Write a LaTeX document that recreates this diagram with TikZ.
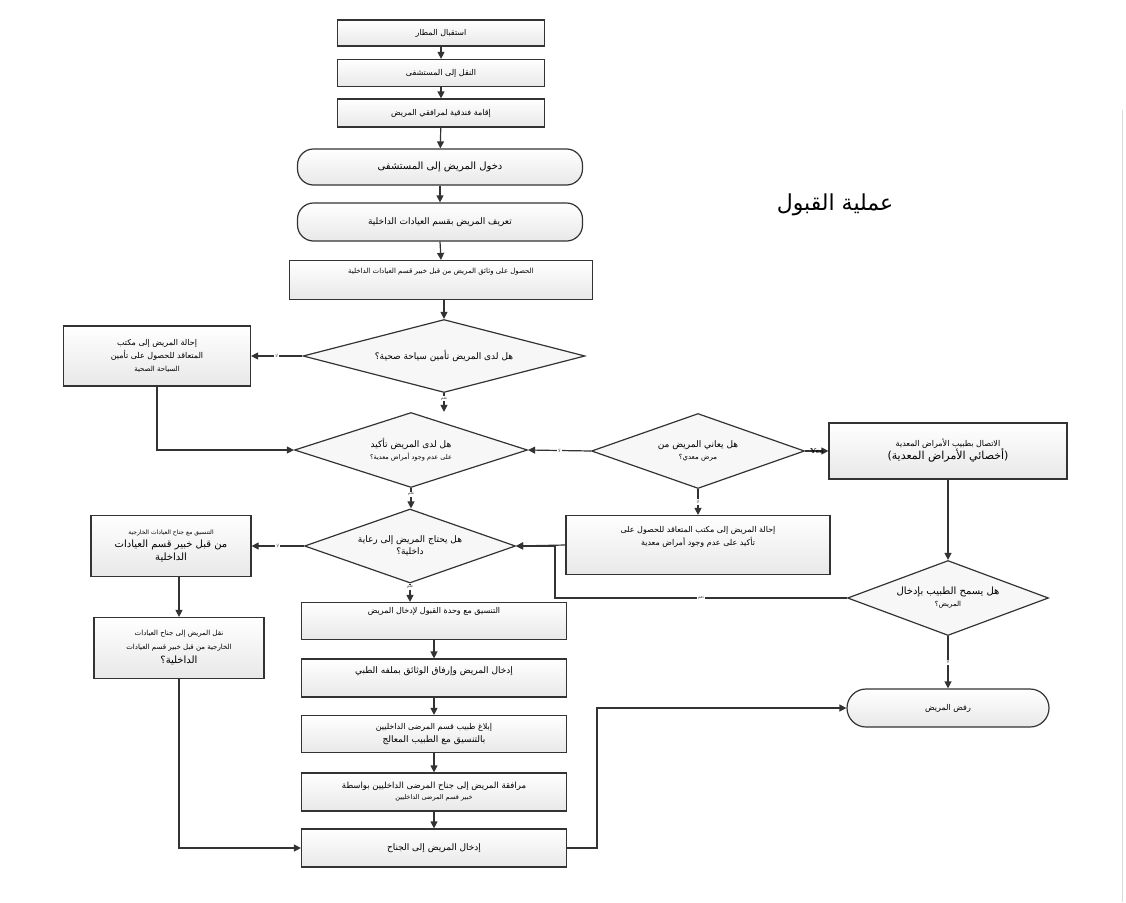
\documentclass[tikz,border=0pt]{standalone}
\usepackage{fontspec}
\newfontfamily\arabicfont[Script=Arabic]{DejaVu Sans}
\TeXXeTstate=1
\usetikzlibrary{shapes.geometric,arrows.meta}
\newcommand{\ar}[1]{{\arabicfont\beginR #1\endR}}
\begin{document}
\begin{tikzpicture}[x=1pt,y=-1pt,
  bx/.style={draw=black!80,line width=1.2pt,top color=white,bottom color=gray!18,inner sep=1pt,align=center,font=\fontsize{8}{13}\selectfont},
  rbx/.style={bx,rounded corners=16pt},
  dm/.style={draw=black!80,line width=1.2pt,fill=gray!6,diamond,aspect=3.8,inner sep=0pt,align=center,font=\fontsize{9}{12}\selectfont},
  ln/.style={draw=black!80,line width=1.2pt},
  ar1/.style={ln,-{Triangle[length=7pt,width=7pt]}},
  lb/.style={font=\fontsize{4.5}{5}\selectfont,fill=white,inner sep=1pt,text=black!70}]
\useasboundingbox (0,0) rectangle (1126,902);
\draw[gray!30] (1122,110) -- (1122,902);
% top chain
\node[bx,minimum width=207pt,minimum height=26pt] (b1) at (441,33) {\ar{استقبال المطار}};
\node[bx,minimum width=207pt,minimum height=27pt] (b2) at (441,73) {\ar{النقل إلى المستشفى}};
\node[bx,minimum width=207pt,minimum height=28pt] (b3) at (441,113) {\ar{إقامة فندقية لمرافقي المريض}};
\node[rbx,minimum width=285pt,minimum height=36pt,font=\fontsize{10}{12}\selectfont] (r1) at (440,167) {\ar{دخول المريض إلى المستشفى}};
\node[rbx,minimum width=285pt,minimum height=38pt,font=\fontsize{9}{12}\selectfont] (r2) at (440,222) {\ar{تعريف المريض بقسم العيادات الداخلية}};
\node[bx,minimum width=303pt,minimum height=39pt,font=\fontsize{7}{9}\selectfont] (b4) at (441,280) {\ar{الحصول على وثائق المريض من قبل خبير قسم العيادات الداخلية}\\[10pt]};
\node[font=\fontsize{22}{26}\selectfont] (title) at (835,205) {\ar{عملية القبول}};
% diamonds
\node[dm,minimum width=282pt,minimum height=73pt] (d1) at (444,356) {\ar{هل لدى المريض تأمين سياحة صحية؟}};
\node[bx,minimum width=187pt,minimum height=60pt] (l1) at (157,356) {\ar{إحالة المريض إلى مكتب}\\\ar{المتعاقد للحصول على تأمين}\\{\fontsize{7}{8}\selectfont\ar{السياحة الصحية}}};
\node[dm,minimum width=233pt,minimum height=75pt] (d2) at (411,450) {\ar{هل لدى المريض تأكيد}\\{\fontsize{6.5}{8}\selectfont\ar{على عدم وجود أمراض معدية؟}}};
\node[dm,minimum width=213pt,minimum height=75pt] (d3) at (698,451) {\ar{هل يعاني المريض من}\\{\fontsize{7}{8}\selectfont\ar{مرض معدي؟}}};
\node[bx,minimum width=238pt,minimum height=56pt] (inf) at (948,451) {{\fontsize{8}{10}\selectfont\ar{الاتصال بطبيب الأمراض المعدية}}\\{\fontsize{11}{13}\selectfont\ar{(أخصائي الأمراض المعدية)}}};
\node[bx,minimum width=264pt,minimum height=59pt] (ref) at (698,545) {\ar{إحالة المريض إلى مكتب المتعاقد للحصول على}\\\ar{تأكيد على عدم وجود أمراض معدية}\\[6pt]};
\node[dm,minimum width=201pt,minimum height=75pt] (d4) at (948,598) {{\fontsize{10}{12}\selectfont\ar{هل يسمح الطبيب بإدخال}}\\{\fontsize{7}{8}\selectfont\ar{المريض؟}}};
\node[rbx,minimum width=202pt,minimum height=38pt,rounded corners=19pt] (rej) at (948,708) {\ar{رفض المريض}};
\node[dm,minimum width=211pt,minimum height=74pt] (d5) at (410,546) {\ar{هل يحتاج المريض إلى رعاية}\\\ar{داخلية؟}};
\node[bx,minimum width=160pt,minimum height=61pt] (l2) at (171,546) {{\fontsize{6}{8}\selectfont\ar{التنسيق مع جناح العيادات الخارجية}}\\{\fontsize{10}{13}\selectfont\ar{من قبل خبير قسم العيادات}}\\{\fontsize{10}{13}\selectfont\ar{الداخلية}}};
\node[bx,minimum width=170pt,minimum height=61pt,font=\fontsize{7}{14}\selectfont] (l3) at (179,648) {\ar{نقل المريض إلى جناح العيادات}\\\ar{الخارجية من قبل خبير قسم العيادات}\\{\fontsize{10}{12}\selectfont\ar{الداخلية؟}}};
% stack
\node[bx,minimum width=265pt,minimum height=37pt] (s1) at (434,621) {\ar{التنسيق مع وحدة القبول لإدخال المريض}\\[8pt]};
\node[bx,minimum width=265pt,minimum height=38pt,font=\fontsize{9}{12}\selectfont] (s2) at (434,678) {\ar{إدخال المريض وإرفاق الوثائق بملفه الطبي}\\[4pt]};
\node[bx,minimum width=265pt,minimum height=37pt] (s3) at (434,734) {\ar{إبلاغ طبيب قسم المرضى الداخليين}\\{\fontsize{9}{11}\selectfont\ar{بالتنسيق مع الطبيب المعالج}}};
\node[bx,minimum width=265pt,minimum height=38pt,font=\fontsize{8.5}{11}\selectfont] (s4) at (434,792) {\ar{مرافقة المريض إلى جناح المرضى الداخليين بواسطة}\\{\fontsize{6.5}{8}\selectfont\ar{خبير قسم المرضى الداخليين}}};
\node[bx,minimum width=265pt,minimum height=38pt,font=\fontsize{9}{12}\selectfont] (s5) at (434,848) {\ar{إدخال المريض إلى الجناح}};
% connectors
\draw[ar1] (b1) -- (b2);
\draw[ar1] (b2) -- (b3);
\draw[ar1] (b3) -- (r1);
\draw[ar1] (r1) -- (r2);
\draw[ar1] (r2.south) -- (b4.north);
\draw[ar1] (b4.south -| d1.north) -- (d1.north);
\draw[ar1] (d1.west) -- node[lb]{\ar{لا}} (l1.east);
\draw[ar1] (d1.south) -- node[lb,pos=0.3]{\ar{نعم}} (d2.north -| d1.south);
\draw[ar1] (l1.south) |- (d2.west);
\draw[ar1] (d3.west) -- node[lb]{\ar{لا}} (d2.east);
\draw[ar1] (d3.east) -- node[lb,font=\fontsize{7}{8}\selectfont\bfseries,fill=none,text=black]{Yes} (inf.west);
\draw[ar1] (d3.south) -- node[lb]{\ar{لا}} (ref.north -| d3.south);
\draw[ar1] (inf.south -| d4.north) -- (d4.north);
\draw[ar1] (ref.west) -- (d5.east);
\coordinate (k1) at (555,598);
\draw[ar1] (d4.west) -- node[lb]{\ar{نعم}} (k1) -- (k1 |- d5.east) -- (d5.east);
\draw[ar1] (d4.south) -- node[lb]{\ar{لا}} (rej.north);
\draw[ar1] (d2.south) -- node[lb,pos=0.3]{\ar{نعم}} (d5.north -| d2.south);
\draw[ar1] (d5.west) -- node[lb]{\ar{لا}} (l2.east);
\draw[ar1] (l2.south -| l3.north) -- (l3.north);
\draw[ar1] (l3.south) |- (s5.west);
\draw[ar1] (d5.south) -- node[lb,pos=0.2]{\ar{نعم}} (s1.north -| d5.south);
\draw[ar1] (s1) -- (s2);
\draw[ar1] (s2) -- (s3);
\draw[ar1] (s3) -- (s4);
\draw[ar1] (s4) -- (s5);
\coordinate (k2) at (597,708);
\draw[ar1] (s5.east) -| (k2) -- (rej.west);
\end{tikzpicture}
\end{document}
